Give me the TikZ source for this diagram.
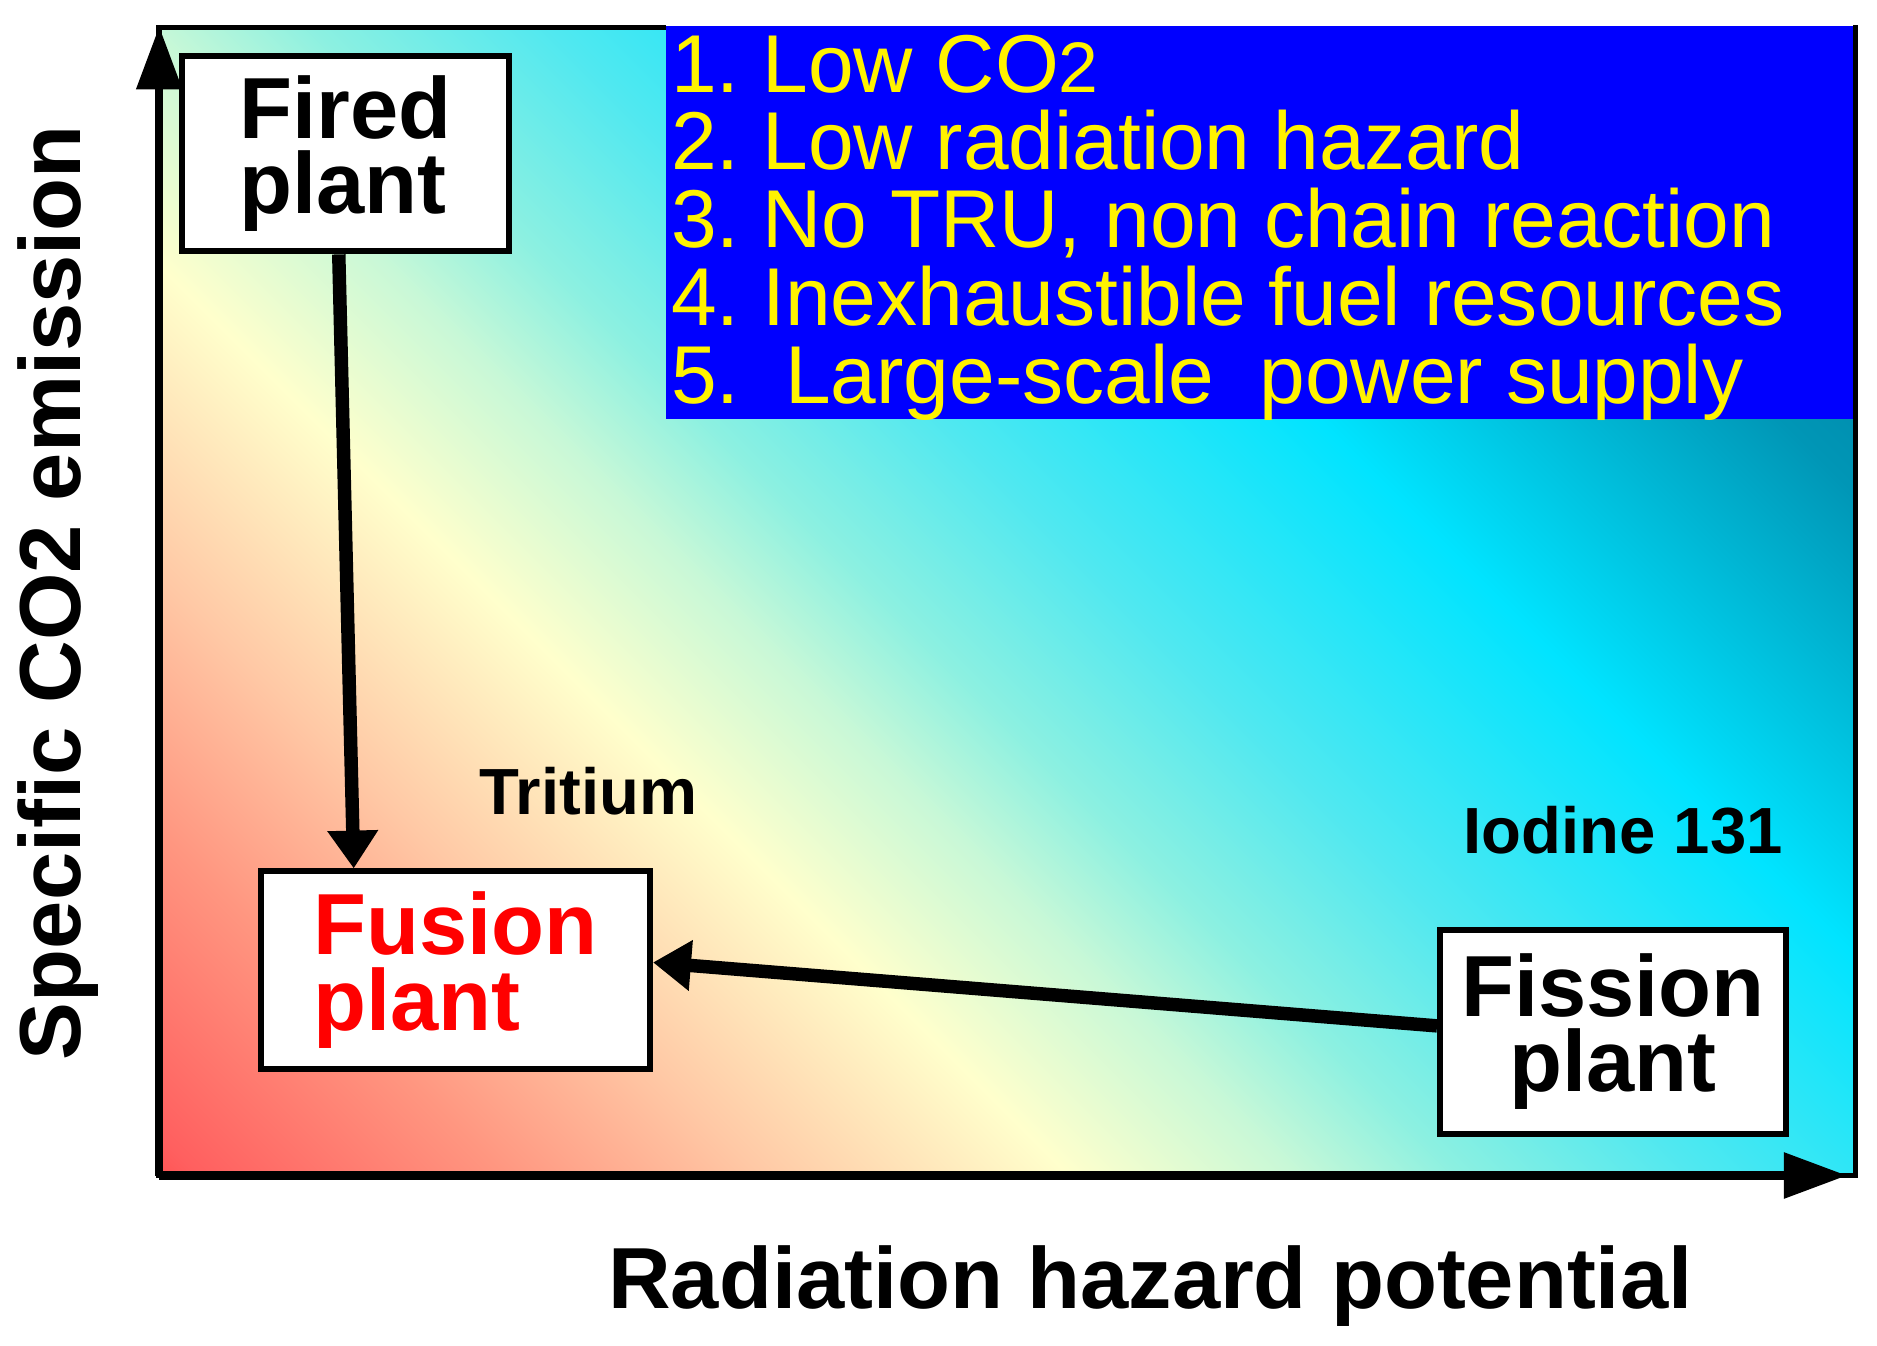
\documentclass[tikz,border=0pt]{standalone}
\usepackage{fontspec}
\setmainfont{Liberation Sans}
\usetikzlibrary{arrows.meta}
\definecolor{g0}{RGB}{255,85,85}
\definecolor{g1}{RGB}{255,95,95}
\definecolor{g2}{RGB}{255,150,128}
\definecolor{g3}{RGB}{255,200,165}
\definecolor{g4}{RGB}{255,255,204}
\definecolor{g5}{RGB}{200,248,215}
\definecolor{g6}{RGB}{140,240,225}
\definecolor{g7}{RGB}{80,232,240}
\definecolor{g8}{RGB}{0,228,255}
\definecolor{g9}{RGB}{0,150,182}
\definecolor{g10}{RGB}{0,115,150}
\pgfdeclarehorizontalshading{bgshade}{100bp}{color(0bp)=(g0); color(25bp)=(g0); color(25.67bp)=(g1); color(31.04bp)=(g2); color(35.53bp)=(g3); color(41bp)=(g4); color(45bp)=(g5); color(47.88bp)=(g6); color(52.09bp)=(g7); color(58.68bp)=(g8); color(66.83bp)=(g9); color(75bp)=(g10); color(100bp)=(g10)}
\tikzset{
  plantbox/.style={draw=black, line width=1.4pt, fill=white, inner sep=0pt, font=\fontsize{20.6}{17.9}\selectfont\bfseries},
  listline/.style={anchor=base west, inner sep=0pt, text=yellow, font=\fontsize{19.5}{20}\selectfont\frenchspacing},
  flowarrow/.style={line width=3.2pt, -{Triangle[length=9pt,width=11.5pt]}},
  axisarrow/.style={line width=2pt, -{Triangle[length=15pt,width=10.5pt]}},
  axislabel/.style={inner sep=0pt, font=\fontsize{20.6}{22}\selectfont\bfseries},
  isotope/.style={anchor=base west, inner sep=0pt, font=\fontsize{15.5}{17}\selectfont\bfseries},
}
\begin{document}
\begin{tikzpicture}[x=0.01cm, y=-0.01cm]
\useasboundingbox (0,0) rectangle (1568,1124);
% gradient background
\begin{scope}
  \clip (133,23) rectangle (1550,982);
  \begin{scope}[transform canvas={rotate around={45:(841.5,502.5)}}]
    \shade[shading=bgshade] (1.8,-357.5) rectangle (1681.2,1362.5);
  \end{scope}
\end{scope}
% list box
\node (listbox) [fill=blue, inner sep=0pt, minimum width=9.92cm, minimum height=3.28cm, anchor=north west] at (556,21) {};
% frame
\draw[line width=1.4pt] (556,23) -- (133,23) -- (133,982) -- (1550,982) -- (1550,21);
\coordinate (O) at (133,982);
\coordinate (ytip) at (133,22);
\coordinate (xtip) at (1543,982);
\draw[axisarrow] (O) -- (ytip);
\draw[axisarrow] (O) -- (xtip);
% list text
\node (l1) [listline] at (560,77) {1. Low CO{\fontsize{17}{17}\selectfont 2}};
\node (l2) [listline] at (560,142) {2. Low radiation hazard};
\node (l3) [listline] at (560,207) {3. No TRU, non chain reaction};
\node (l4) [listline] at (560,272) {4. Inexhaustible fuel resources};
\node (l5) [listline] at (560,337) {5.\ \ Large-scale\ \ power supply};
% plant boxes
\node (fired) [plantbox, align=left, minimum width=2.73cm, minimum height=1.63cm] at (288.5,128.5) {Fired\\plant};
\node (fusion) [plantbox, align=left, text=red, minimum width=3.25cm, minimum height=1.65cm] at (380.5,810.5) {Fusion\\plant};
\node (fission) [plantbox, align=center, minimum width=2.89cm, minimum height=1.70cm] at (1347.5,862) {Fission\\plant};
% connectors
\draw[flowarrow] ([xshift=-0.055cm]fired.south) -- ([xshift=0.8cm]fusion.north west);
\draw[flowarrow] ([yshift=0.05cm]fission.west) -- ([yshift=0.065cm]fusion.east);
% labels
\node (tritium) [isotope] at (400,680) {Tritium};
\node (iodine) [isotope] at (1222,713) {Iodine 131};
\node (ylabel) [axislabel, anchor=base, rotate=90] at (67,495) {Specific CO2 emission};
\node (xlabel) [axislabel, anchor=base] at (961,1093) {Radiation hazard potential};
\end{tikzpicture}
\end{document}
